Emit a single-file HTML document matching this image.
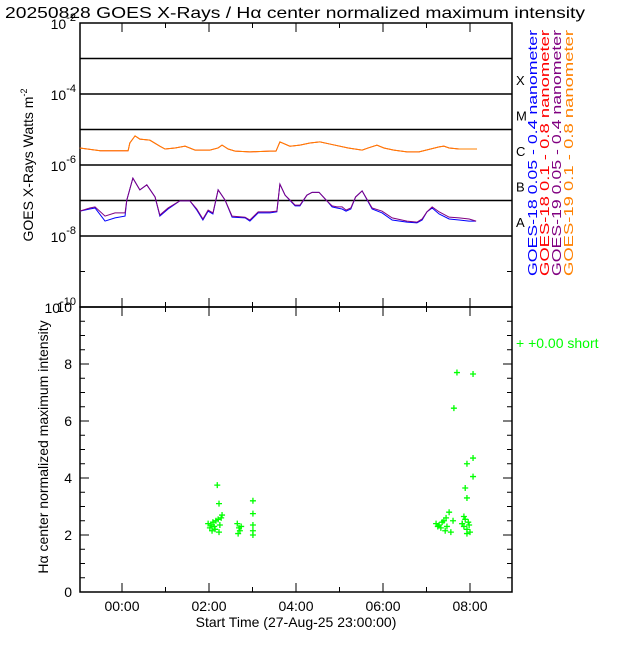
<!DOCTYPE html>
<html><head><meta charset="utf-8"><style>
html,body{margin:0;padding:0;background:#fff;}
svg text{font-family:"Liberation Sans",sans-serif;}
</style></head><body>
<svg id="c" width="640" height="640" xmlns="http://www.w3.org/2000/svg">
<rect width="640" height="640" fill="#fff"/>
<text x="5" y="18" font-size="16" textLength="580" lengthAdjust="spacingAndGlyphs">20250828 GOES X-Rays / Hα center normalized maximum intensity</text>
<g id="topPanel"></g>
<g id="botPanel"></g>
</svg>
<script>
const orangeT = [-0.97,-0.5,-0.16,0.14,0.18,0.30,0.41,0.64,0.87,0.99,1.22,1.45,1.68,2.02,2.21,2.30,2.44,2.60,2.94,3.40,3.54,3.63,3.86,4.09,4.32,4.55,4.78,5.20,5.52,5.66,5.86,6.02,6.25,6.55,6.83,7.29,7.40,7.52,7.75,8.16];
const orangeLog = [-5.52,-5.60,-5.60,-5.60,-5.38,-5.18,-5.27,-5.30,-5.47,-5.55,-5.52,-5.47,-5.58,-5.58,-5.52,-5.44,-5.55,-5.61,-5.63,-5.61,-5.61,-5.35,-5.47,-5.44,-5.38,-5.35,-5.41,-5.52,-5.58,-5.52,-5.44,-5.52,-5.58,-5.63,-5.63,-5.49,-5.47,-5.52,-5.55,-5.55];
const purpleT = [-0.97,-0.74,-0.62,-0.39,-0.16,0.07,0.11,0.25,0.41,0.57,0.76,0.87,1.06,1.33,1.56,1.72,1.86,1.98,2.09,2.21,2.37,2.53,2.83,2.94,3.13,3.40,3.56,3.63,3.75,3.98,4.09,4.25,4.37,4.53,4.71,4.83,4.94,5.06,5.15,5.26,5.37,5.52,5.75,5.98,6.21,6.55,6.78,6.90,7.01,7.13,7.29,7.52,7.75,7.98,8.14];
const purpleLog = [-7.30,-7.21,-7.18,-7.44,-7.35,-7.35,-6.99,-6.37,-6.70,-6.56,-6.90,-7.41,-7.21,-7.01,-7.01,-7.24,-7.52,-7.27,-7.35,-6.70,-6.99,-7.44,-7.47,-7.55,-7.32,-7.32,-7.30,-6.54,-6.85,-7.13,-7.13,-6.85,-6.77,-6.77,-7.01,-7.15,-7.18,-7.18,-7.27,-7.21,-6.90,-6.73,-7.21,-7.30,-7.49,-7.58,-7.61,-7.52,-7.32,-7.18,-7.32,-7.47,-7.49,-7.52,-7.58];
const blueT = [-0.97,-0.74,-0.62,-0.39,-0.16,0.07,0.11,0.25,0.41,0.57,0.76,0.87,1.06,1.33,1.56,1.72,1.86,1.98,2.09,2.21,2.37,2.53,2.83,2.94,3.13,3.40,3.56,3.63,3.75,3.98,4.09,4.25,4.37,4.53,4.71,4.83,4.94,5.06,5.15,5.26,5.37,5.52,5.75,5.98,6.21,6.55,6.78,6.90,7.01,7.13,7.29,7.52,7.75,7.98,8.14];
const blueLog = [-7.30,-7.24,-7.21,-7.58,-7.49,-7.44,-6.99,-6.37,-6.70,-6.56,-6.90,-7.44,-7.24,-7.01,-7.01,-7.27,-7.55,-7.30,-7.38,-6.70,-6.99,-7.47,-7.49,-7.58,-7.35,-7.35,-7.32,-6.54,-6.85,-7.15,-7.15,-6.85,-6.77,-6.77,-7.01,-7.18,-7.21,-7.24,-7.30,-7.24,-6.90,-6.73,-7.24,-7.35,-7.55,-7.61,-7.63,-7.55,-7.32,-7.21,-7.38,-7.52,-7.55,-7.58,-7.58];
const haT = [1.98,2.02,2.05,2.09,2.12,2.16,2.21,2.25,2.28,2.07,2.14,2.23,2.19,2.23,2.30,2.65,2.69,2.71,2.74,2.67,3.01,3.01,3.01,3.01,3.01,7.22,7.26,7.29,7.33,7.36,7.40,7.45,7.52,7.43,7.47,7.56,7.61,7.82,7.86,7.89,7.93,7.96,7.98,8.00,7.86,7.93,7.82,8.07,7.93,8.07,7.70,7.63,7.93,8.07,7.89];
const haV = [2.40,2.25,2.35,2.45,2.30,2.50,2.55,2.35,2.60,2.15,2.20,2.10,3.75,3.10,2.70,2.40,2.25,2.15,2.30,2.05,3.20,2.75,2.35,2.15,2.00,2.40,2.30,2.35,2.25,2.45,2.50,2.60,2.80,2.15,2.30,2.10,2.50,2.40,2.30,2.55,2.20,2.45,2.35,2.10,2.65,2.05,2.40,4.70,3.30,7.65,7.70,6.45,4.50,4.05,3.65];
const xTickLabels = ['00:00','02:00','04:00','06:00','08:00'];

const NS='http://www.w3.org/2000/svg';
const topG=document.getElementById('topPanel'), botG=document.getElementById('botPanel');
const L=80,R=512,T1=23,B1=307,T2=307,B2=592;
const xs=t=>122+t*43.5;
const yTop=lg=>T1+(-2-lg)*(B1-T1)/8;
const yBot=v=>B2-v*(B2-T2)/10;
function el(tag,attrs,parent){const e=document.createElementNS(NS,tag);for(const k in attrs)e.setAttribute(k,attrs[k]);parent.appendChild(e);return e;}

const f1=el('rect',{x:L,y:T1,width:R-L,height:B1-T1,fill:'none',stroke:'#000','stroke-width':1.5},topG);


for(let d=-8;d<=-3;d++){
  const g=el('line',{x1:L,x2:R,y1:yTop(d),y2:yTop(d),stroke:'#000','stroke-width':1.5},topG);
  
  
}
for(let d=-10;d<=-2;d++){
  const y=yTop(d);
  el('line',{x1:L,x2:L+5,y1:y,y2:y,stroke:'#000'},topG);
  el('line',{x1:R-5,x2:R,y1:y,y2:y,stroke:'#000'},topG);
  if(d%2===0){
    const tx=el('text',{x:L-4,y:y+6,'font-size':14,'text-anchor':'end'},topG);
    
    
    tx.innerHTML='10<tspan dy="-8" font-size="11">'+d+'</tspan>';
  }
}
for(let h=-0;h<=8;h++){const x=xs(h);
  el('line',{x1:x,x2:x,y1:T1,y2:T1+(h%2?5:9),stroke:'#000'},topG);
  el('line',{x1:x,x2:x,y1:B1,y2:B1-(h%2?5:9),stroke:'#000'},topG);
  el('line',{x1:x,x2:x,y1:T2,y2:T2+(h%2?5:9),stroke:'#000'},botG);
  el('line',{x1:x,x2:x,y1:B2,y2:B2-(h%2?5:9),stroke:'#000'},botG);
}
const yt=el('text',{x:0,y:0,'font-size':14,'text-anchor':'middle',transform:'translate(33,165) rotate(-90)'},topG);


yt.innerHTML='GOES X-Rays Watts m<tspan dy="-6" font-size="9">-2</tspan>';

function line(ts,vs,color,name){
  const p=el('polyline',{points:ts.map((t,i)=>xs(t)+','+yTop(vs[i])).join(' '),fill:'none',stroke:color,'stroke-width':1},topG);
  
  
}
line(orangeT,orangeLog,'#ff0000','goes18-long-line');
line(orangeT,orangeLog,'#ff8000','goes19-long-line');
line(blueT,blueLog,'#0000ff','goes18-short-line');
line(purpleT,purpleLog,'#800080','goes19-short-line');

[['A',-7.6],['B',-6.6],['C',-5.6],['M',-4.6],['X',-3.6]].forEach(([c,v])=>{
  const t=el('text',{x:516,y:yTop(v)+5,'font-size':13},topG);
  
  
  t.textContent=c;
});
[['GOES-18 0.05 - 0.4 nanometer','#0000ff',537],['GOES-18 0.1 - 0.8 nanometer','#ff0000',549],['GOES-19 0.05 - 0.4 nanometer','#800080',561],['GOES-19 0.1 - 0.8 nanometer','#ff8000',573]].forEach(([s,c,x])=>{
  const t=el('text',{x:0,y:0,'font-size':13,fill:c,transform:'translate('+x+',276) rotate(-90)',textLength:246,lengthAdjust:'spacingAndGlyphs'},topG);
  
  
  t.textContent=s;
});

const f2=el('rect',{x:L,y:T2,width:R-L,height:B2-T2,fill:'none',stroke:'#000','stroke-width':1.5},botG);


for(let v=0;v<=10;v+=0.5){const y=yBot(v);
  el('line',{x1:L,x2:L+(v%2===0?9:5),y1:y,y2:y,stroke:'#000'},botG);
  el('line',{x1:R,x2:R-(v%2===0?9:5),y1:y,y2:y,stroke:'#000'},botG);
  if(v%2===0){const t=el('text',{x:L-8,y:y+5,'font-size':14,'text-anchor':'end'},botG);
    
    
    t.textContent=v;}
}
const hy=el('text',{x:0,y:0,'font-size':14,'text-anchor':'middle',transform:'translate(48,447) rotate(-90)'},botG);


hy.textContent='Hα center normalized maximum intensity';
xTickLabels.forEach((s,i)=>{
  const t=el('text',{x:xs(i*2),y:611,'font-size':14,'text-anchor':'middle'},botG);
  
  
  t.textContent=s;
});
const xt=el('text',{x:296,y:627,'font-size':14,'text-anchor':'middle'},botG);


xt.textContent='Start Time (27-Aug-25 23:00:00)';
haT.forEach((t,i)=>{
  const x=xs(t),y=yBot(haV[i]);
  const p=el('path',{d:'M'+(x-3)+' '+y+'h6M'+x+' '+(y-3)+'v6',stroke:'#00ff00','stroke-width':1.3},botG);
  
  
});
const lg=el('text',{x:516,y:348,'font-size':14,fill:'#00ff00'},botG);


lg.textContent='+  +0.00 short';
</script>
</body></html>
